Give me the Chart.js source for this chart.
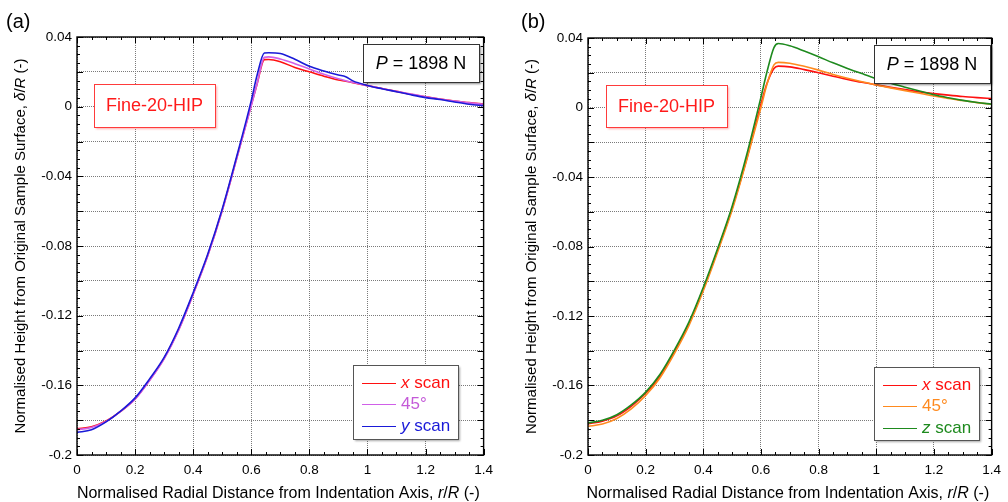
<!DOCTYPE html>
<html>
<head>
<meta charset="utf-8">
<script src="https://cdn.jsdelivr.net/npm/chart.js@4"></script>
<style>
html, body { margin: 0; padding: 0; background: #fff; }
#wrap { position: relative; width: 1008px; height: 502px; overflow: hidden; }
canvas { position: absolute; top: 0; }
</style>
</head>
<body>
<div id="wrap">
    <canvas id="chartA" width="500" height="502" style="left:0"></canvas>
    <canvas id="chartB" width="508" height="502" style="left:500px"></canvas>
</div>
<script>
// tick labels
const xTickLabels = ['0', '0.2', '0.4', '0.6', '0.8', '1', '1.2', '1.4'];
const yTickLabels = ['-0.2', '-0.16', '-0.12', '-0.08', '-0.04', '0', '0.04'];

// (a) r/R positions and delta/R values
const rA = [0, 0.05, 0.1, 0.15, 0.2, 0.25, 0.3, 0.35, 0.4, 0.45, 0.5, 0.55, 0.6, 0.62, 0.645, 0.66,
    0.7, 0.75, 0.8, 0.85, 0.9, 0.925, 0.95, 1.0, 1.05, 1.1, 1.15, 1.2, 1.25, 1.3, 1.35, 1.4];
const xScanA = [-0.185, -0.1838, -0.1805, -0.175, -0.1678, -0.157, -0.1445, -0.128, -0.1075, -0.0855, -0.0595, -0.0295, 0.001, 0.013, 0.027, 0.0271,
    0.0258, 0.0225, 0.0200, 0.0175, 0.0153, 0.0146, 0.0138, 0.0121, 0.0104, 0.0088, 0.0071, 0.0056, 0.0044, 0.0033, 0.0023, 0.0015];
const deg45A = [-0.1855, -0.1842, -0.1808, -0.175, -0.168, -0.1572, -0.1448, -0.1283, -0.1078, -0.0858, -0.0598, -0.0298, 0.0005, 0.013, 0.0283, 0.0286,
    0.0274, 0.0247, 0.0216, 0.0186, 0.016, 0.0149, 0.0139, 0.0121, 0.0104, 0.0088, 0.0072, 0.0057, 0.0044, 0.0032, 0.0022, 0.0013];
const yScanA = [-0.187, -0.1855, -0.181, -0.1748, -0.1672, -0.1563, -0.144, -0.1272, -0.1068, -0.0848, -0.0588, -0.0285, 0.0035, 0.018, 0.0308, 0.031,
    0.0305, 0.0272, 0.0232, 0.0205, 0.0182, 0.0172, 0.0148, 0.0122, 0.0103, 0.0086, 0.0068, 0.0052, 0.0041, 0.0027, 0.0014, 0.0006];

// (b)
const rB = [0, 0.05, 0.1, 0.15, 0.2, 0.25, 0.3, 0.35, 0.4, 0.45, 0.5, 0.55, 0.6, 0.62, 0.645, 0.66,
    0.7, 0.75, 0.8, 0.85, 0.9, 0.95, 1.0, 1.05, 1.1, 1.15, 1.2, 1.25, 1.3, 1.35, 1.4];
const xScanB = [-0.182, -0.1805, -0.1775, -0.172, -0.1645, -0.1545, -0.1405, -0.1245, -0.1045, -0.082, -0.058, -0.030, 0.002, 0.0135, 0.0225, 0.0238,
    0.0234, 0.0218, 0.0200, 0.018, 0.0162, 0.0145, 0.013, 0.0116, 0.0103, 0.009, 0.008, 0.0071, 0.0063, 0.0057, 0.0052];
const deg45B = [-0.1835, -0.1822, -0.179, -0.1735, -0.1658, -0.1555, -0.1415, -0.1255, -0.1055, -0.083, -0.059, -0.0305, 0.0, 0.013, 0.0245, 0.026,
    0.0255, 0.0237, 0.0215, 0.019, 0.0168, 0.0148, 0.013, 0.0113, 0.0097, 0.0082, 0.0066, 0.0052, 0.004, 0.0028, 0.0018];
const zScanB = [-0.1815, -0.180, -0.1768, -0.1712, -0.1638, -0.1535, -0.1395, -0.1235, -0.1035, -0.081, -0.0568, -0.0275, 0.006, 0.020, 0.0345, 0.0368,
    0.0355, 0.0325, 0.0292, 0.0257, 0.0225, 0.0195, 0.0166, 0.014, 0.0117, 0.0095, 0.0073, 0.0056, 0.0041, 0.0029, 0.0019];

const FONT = "'Liberation Sans', Arial, sans-serif";
Chart.defaults.font.family = FONT;
Chart.defaults.font.size = 13;
Chart.defaults.color = '#000';

const pts = (xs, ys) => xs.map((x, i) => ({ x: x, y: ys[i] }));

// draws text where some parts are italic: parts = [[text, italic], ...]
function drawRich(ctx, parts, x, y, size, align, color) {
    const fontOf = (it) => (it ? 'italic ' : '') + size + 'px ' + FONT;
    let total = 0;
    parts.forEach(p => { ctx.font = fontOf(p[1]); total += ctx.measureText(p[0]).width; });
    let cx = align === 'center' ? x - total / 2 : x;
    ctx.fillStyle = color || '#000';
    ctx.textAlign = 'left';
    ctx.textBaseline = 'middle';
    parts.forEach(p => {
        ctx.font = fontOf(p[1]);
        ctx.fillText(p[0], cx, y);
        cx += ctx.measureText(p[0]).width;
    });
}

function legendParts(label) {
    if (label.endsWith(' scan')) return [[label.split(' ')[0], true], [' scan', false]];
    return [[label, false]];
}

const decor = {
    id: 'decor',
    afterDraw(chart, args, o) {
        const { ctx, chartArea: a, scales: { x, y } } = chart;
        ctx.save();
        // inward tick marks on all four sides
        ctx.strokeStyle = '#000';
        ctx.lineWidth = 1;
        ctx.beginPath();
        for (let i = 0; i <= 28; i++) {
            const px = Math.round(x.getPixelForValue(i * 0.05)) + 0.5;
            const len = i % 4 === 0 ? 6 : 3;
            ctx.moveTo(px, a.bottom); ctx.lineTo(px, a.bottom - len);
            ctx.moveTo(px, a.top); ctx.lineTo(px, a.top + len);
        }
        for (let i = 0; i <= 48; i++) {
            const py = Math.round(y.getPixelForValue(-0.2 + i * 0.005)) + 0.5;
            const len = i % 4 === 0 ? 6 : 3;
            ctx.moveTo(a.left, py); ctx.lineTo(a.left + len, py);
            ctx.moveTo(a.right, py); ctx.lineTo(a.right - len, py);
        }
        ctx.stroke();
        ctx.lineWidth = 1.4;
        ctx.strokeRect(a.left, a.top, a.right - a.left, a.bottom - a.top);

        // panel letter
        ctx.font = '20px ' + FONT;
        ctx.fillStyle = '#000';
        ctx.textAlign = 'left';
        ctx.textBaseline = 'middle';
        ctx.fillText(o.panel, o.panelX, 22);

        // axis titles
        drawRich(ctx, [['Normalised Radial Distance from Indentation Axis, ', false], ['r', true], ['/', false], ['R', true], [' (-)', false]],
            (a.left + a.right) / 2 - 2, 494, 16, 'center');
        ctx.save();
        ctx.translate(o.yTitleX, (a.top + a.bottom) / 2);
        ctx.rotate(-Math.PI / 2);
        drawRich(ctx, [['Normalised Height from Original Sample Surface, ', false], ['δ', true], ['/', false], ['R', true], [' (-)', false]],
            0, 0, 15, 'center');
        ctx.restore();

        // boxes
        const box = (b, border, shadow) => {
            ctx.save();
            ctx.shadowColor = shadow;
            ctx.shadowOffsetX = 2;
            ctx.shadowOffsetY = 2;
            ctx.shadowBlur = 2;
            ctx.fillStyle = '#fff';
            ctx.fillRect(b[0], b[1], b[2], b[3]);
            ctx.restore();
            ctx.strokeStyle = border;
            ctx.lineWidth = 1;
            ctx.strokeRect(b[0] + 0.5, b[1] + 0.5, b[2], b[3]);
        };
        box(o.pBox, '#333', 'rgba(0,0,0,0.45)');
        drawRich(ctx, [['P', true], [' = 1898 N', false]], o.pBox[0] + o.pBox[2] / 2, o.pBox[1] + o.pBox[3] / 2 + 1, 18, 'center');
        box(o.fineBox, '#ff3b3b', 'rgba(255,80,80,0.45)');
        drawRich(ctx, [['Fine-20-HIP', false]], o.fineBox[0] + o.fineBox[2] / 2, o.fineBox[1] + o.fineBox[3] / 2 + 1, 18, 'center', '#ff1a1a');

        // legend
        const L = o.legBox;
        box(L, '#555', 'rgba(0,0,0,0.35)');
        const rows = [18, 39, 61];
        chart.data.datasets.forEach((ds, i) => {
            const ry = L[1] + rows[i] + 0.5;
            ctx.strokeStyle = ds.borderColor;
            ctx.lineWidth = 1.2;
            ctx.beginPath();
            ctx.moveTo(L[0] + 9, ry); ctx.lineTo(L[0] + 43, ry);
            ctx.stroke();
            drawRich(ctx, legendParts(ds.label), L[0] + 48, ry, 17, 'left', ds.textColor || ds.borderColor);
        });
        ctx.restore();
    }
};

function makeChart(id, series, o) {
    new Chart(document.getElementById(id), {
        type: 'line',
        data: {
            datasets: series.map((s, i) => ({
                label: s.label,
                data: s.data,
                borderColor: s.color,
                textColor: s.textColor,
                borderWidth: 1.6,
                pointRadius: 0,
                cubicInterpolationMode: 'monotone',
                fill: false,
                order: series.length - i
            }))
        },
        options: {
            responsive: false,
            animation: false,
            events: [],
            layout: { padding: { top: o.top, right: o.right, left: 0, bottom: 0 } },
            plugins: { legend: { display: false }, tooltip: { enabled: false }, decor: o },
            scales: {
                x: {
                    type: 'linear',
                    min: 0,
                    max: 1.4,
                    afterFit(s) { s.height = 47; },
                    grid: { color: '#7a7a7a', lineWidth: 1, drawTicks: false },
                    border: { display: false, dash: [1, 1] },
                    ticks: {
                        stepSize: 0.2,
                        autoSkip: false,
                        maxRotation: 0,
                        padding: 7,
                        font: { size: 13.5 },
                        callback: (v) => xTickLabels[Math.round(v / 0.2)]
                    }
                },
                y: {
                    min: -0.2,
                    max: 0.04,
                    afterFit(s) { s.width = o.left; },
                    grid: { color: '#7a7a7a', lineWidth: 1, drawTicks: false },
                    border: { display: false, dash: [1, 1] },
                    ticks: {
                        stepSize: 0.02,
                        autoSkip: false,
                        padding: 5,
                        font: { size: 13.5 },
                        callback: (v) => {
                            const k = Math.round((v + 0.2) / 0.02);
                            return k % 2 === 0 ? yTickLabels[k / 2] : '';
                        }
                    }
                }
            }
        },
        plugins: [decor]
    });
}

makeChart('chartA', [
    { label: 'x scan', data: pts(rA, xScanA), color: '#ff1010' },
    { label: '45°', data: pts(rA, deg45A), color: '#d060e8', textColor: '#c45ad8' },
    { label: 'y scan', data: pts(rA, yScanA), color: '#1a1ad8' }
], {
    panel: '(a)', panelX: 6, yTitleX: 21, left: 77, top: 37, right: 11,
    pBox: [363, 44, 116, 38], fineBox: [94, 84, 121, 43], legBox: [353, 365, 105, 74]
});

makeChart('chartB', [
    { label: 'x scan', data: pts(rB, xScanB), color: '#ff1010' },
    { label: '45°', data: pts(rB, deg45B), color: '#ff8a1e' },
    { label: 'z scan', data: pts(rB, zScanB), color: '#1e8a1e' }
], {
    panel: '(b)', panelX: 21, yTitleX: 32, left: 88, top: 38, right: 9,
    pBox: [374, 45, 116, 38], fineBox: [106, 85, 121, 42], legBox: [374, 367, 105, 73]
});
</script>
</body>
</html>
